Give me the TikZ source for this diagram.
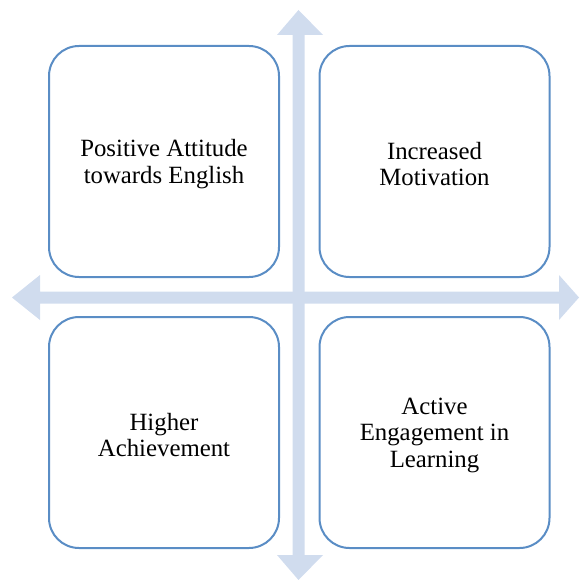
\documentclass[tikz,border=0pt]{standalone}
\usepackage{fontspec}
\setmainfont{Liberation Serif}
\definecolor{arrowfill}{HTML}{D0DCEE}
\definecolor{boxline}{HTML}{5A8DC5}
\begin{document}
\begin{tikzpicture}[x=1pt,y=-1pt,
  quad/.style={draw=boxline, line width=2pt, fill=white, rounded corners=30pt,
    minimum width=230pt, minimum height=231pt, inner sep=0pt},
  quadtext/.style={align=center, font=\rmfamily\fontsize{24.8}{26.5}\selectfont,
    inner sep=0pt, yshift=-2.5pt},
  bigarrow/.style={fill=arrowfill, draw=none}]
\useasboundingbox (0,0) rectangle (579,580);
% horizontal double arrow
\fill[bigarrow] (12,297.5) -- (40,275) -- (40,291.5) -- (559,291.5) -- (559,275) -- (579,297.5)
  -- (559,320) -- (559,303.5) -- (40,303.5) -- (40,320) -- cycle;
% vertical double arrow
\fill[bigarrow] (298.5,10) -- (323,35) -- (304.5,35) -- (304.5,555) -- (323,555) -- (298.5,580)
  -- (277,555) -- (292.5,555) -- (292.5,35) -- (277,35) -- cycle;
\node[quad, label={[quadtext]center:{Positive Attitude\\towards English}}] (tl) at (164,161.5) {};
\node[quad, label={[quadtext]center:{Increased\\Motivation}}] (tr) at (434.5,161.5) {};
\node[quad, label={[quadtext]center:{Higher\\Achievement}}] (bl) at (164,432.5) {};
\node[quad, label={[quadtext]center:{Active\\Engagement in\\Learning}}] (br) at (434.5,432.5) {};
\end{tikzpicture}
\end{document}
